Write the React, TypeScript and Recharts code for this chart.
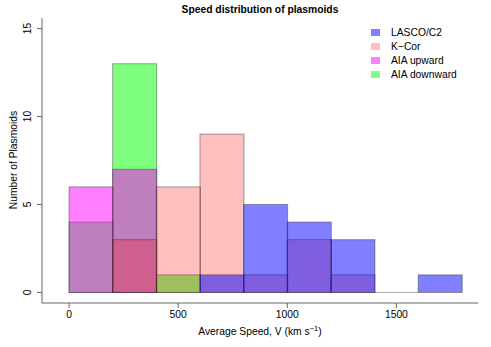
import React from "react";
import { ComposedChart, Bar, XAxis, YAxis, Legend } from "recharts";

// histogram bins, 200 km/s wide, keyed by bin centre
const binMids = [100, 300, 500, 700, 900, 1100, 1300, 1500, 1700];
// counts per bin (null = outside that histogram's range)
const lascoC2 = [null, null, null, 1, 5, 4, 3, 0, 1];
const kCor = [null, 3, 6, 9, 1, 3, 1, null, null];
const aiaUpward = [6, 7, null, null, null, null, null, null, null];
const aiaDownward = [4, 13, 1, null, null, null, null, null, null];

const xTicks = [0, 500, 1000, 1500];
const yTicks = [0, 5, 10, 15];

const data = binMids.map((mid, i) => ({
  mid,
  lasco: lascoC2[i],
  kcor: kCor[i],
  up: aiaUpward[i],
  down: aiaDownward[i],
}));

// drawing order matters: later series sit on top
const series = [
  { key: "down", name: "AIA downward", fill: "rgba(0,255,0,0.5)" },
  { key: "up", name: "AIA upward", fill: "rgba(255,0,255,0.5)" },
  { key: "kcor", name: "K\u2212Cor", fill: "rgba(255,0,0,0.25)" },
  { key: "lasco", name: "LASCO/C2", fill: "rgba(0,0,255,0.5)" },
];
const legendOrder = ["lasco", "kcor", "up", "down"];

const X_DOMAIN: [number, number] = [-124, 1874];
const Y_DOMAIN: [number, number] = [-0.6, 15.6];
const FONT = "'Liberation Sans', Arial, sans-serif";
const FS = 10.3;
const BORDER = "rgba(40,40,40,0.42)";
const BOX = "#666";

const makeShape = (key: string, fill: string) => (props: any) => {
  const { x, y, width, height, payload } = props;
  const v = payload ? payload[key] : null;
  if (v == null) return null;
  if (v === 0) {
    // empty bin inside the histogram's range: R still draws its outline
    const yb = y + height;
    return <line x1={x} x2={x + width} y1={yb} y2={yb} stroke={BORDER} strokeWidth={1} />;
  }
  return <rect x={x} y={y} width={width} height={height} fill={fill} stroke={BORDER} strokeWidth={1} />;
};

const YTick = (props: any) => {
  const { x, y, payload } = props;
  return (
    <text
      x={x - 4}
      y={y}
      transform={`rotate(-90, ${x - 4}, ${y})`}
      textAnchor="middle"
      fontSize={FS}
      fontFamily={FONT}
      fill="#000"
    >
      {payload.value}
    </text>
  );
};

const LegendBox = () => (
  <div style={{ fontFamily: FONT, fontSize: FS, color: "#000" }}>
    {legendOrder.map((k) => {
      const s = series.find((d) => d.key === k)!;
      return (
        <div key={k} style={{ display: "flex", alignItems: "center", height: 14 }}>
          <span style={{ display: "inline-block", width: 9, height: 7, background: s.fill, marginRight: 11 }} />
          <span>{s.name}</span>
        </div>
      );
    })}
  </div>
);

export default function App() {
  return (
    <div style={{ position: "absolute", left: 0, top: 0, width: 491, height: 347, background: "#fff" }}>
      <div
        style={{
          position: "absolute",
          left: 42,
          width: 436,
          top: 4,
          textAlign: "center",
          fontFamily: FONT,
          fontWeight: "bold",
          fontSize: FS,
        }}
      >
        Speed distribution of plasmoids
      </div>
      <div
        style={{
          position: "absolute",
          left: 42,
          width: 436,
          top: 324,
          textAlign: "center",
          fontFamily: FONT,
          fontSize: FS,
        }}
      >
        Average Speed, V (km s<sup style={{ fontSize: 7.5 }}>{"\u22121"}</sup>)
      </div>
      <div
        style={{
          position: "absolute",
          left: 13,
          top: 160,
          transform: "translate(-50%, -50%) rotate(-90deg)",
          whiteSpace: "nowrap",
          fontFamily: FONT,
          fontSize: FS,
        }}
      >
        Number of Plasmoids
      </div>
      <ComposedChart
        width={491}
        height={347}
        data={data}
        margin={{ top: 18, right: 13, bottom: 0, left: 0 }}
        barCategoryGap={0}
        barGap={0}
      >
        {series.map((s, i) => (
          <XAxis
            key={s.key}
            xAxisId={s.key}
            dataKey="mid"
            type="number"
            domain={X_DOMAIN}
            ticks={xTicks}
            allowDataOverflow
            hide={i !== 0}
            height={44}
            tickSize={5}
            tickMargin={3}
            tickLine={{ stroke: BOX }}
            axisLine={{ stroke: BOX }}
            tick={{ fontSize: FS, fontFamily: FONT, fill: "#000" }}
          />
        ))}
        <XAxis
          xAxisId="top"
          orientation="top"
          type="number"
          domain={X_DOMAIN}
          height={0}
          tick={false}
          tickLine={false}
          axisLine={{ stroke: BOX }}
        />
        <YAxis
          yAxisId="left"
          type="number"
          domain={Y_DOMAIN}
          ticks={yTicks}
          allowDataOverflow
          width={42}
          tickSize={5}
          tickLine={{ stroke: BOX }}
          axisLine={{ stroke: BOX }}
          tick={<YTick />}
        />
        <YAxis
          yAxisId="right"
          orientation="right"
          type="number"
          domain={Y_DOMAIN}
          width={0}
          tick={false}
          tickLine={false}
          axisLine={{ stroke: BOX }}
        />
        <Legend
          layout="horizontal"
          verticalAlign="middle"
          align="center"
          content={<LegendBox />}
          wrapperStyle={{ position: "absolute", left: 371, top: 25, width: 110, height: 60 }}
        />
        {series.map((s) => (
          <Bar
            key={s.key}
            xAxisId={s.key}
            yAxisId="left"
            dataKey={s.key}
            name={s.name}
            fill={s.fill}
            minPointSize={0.5}
            shape={makeShape(s.key, s.fill)}
            isAnimationActive={false}
          />
        ))}
      </ComposedChart>
    </div>
  );
}
